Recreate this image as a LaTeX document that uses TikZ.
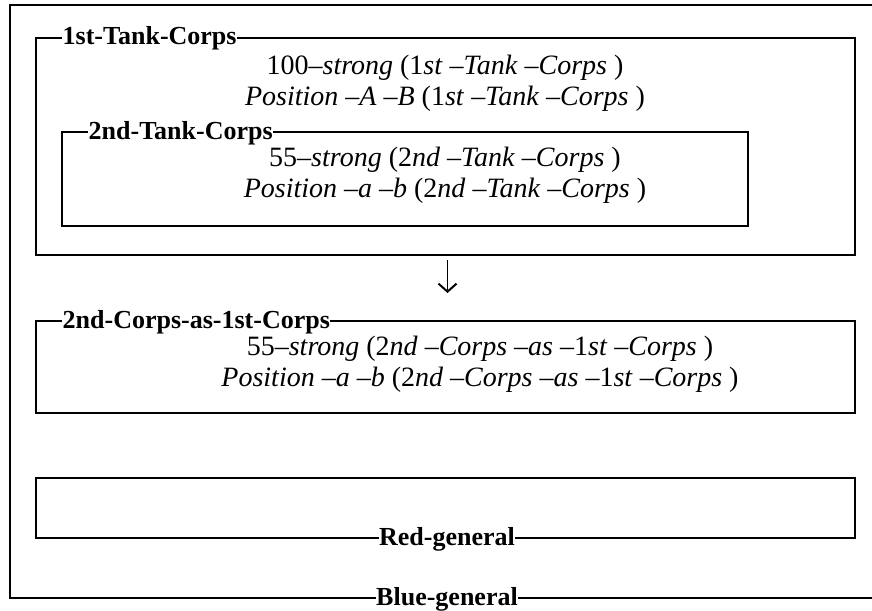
\documentclass[tikz,border=0pt]{standalone}
\usepackage{fontspec}
\setmainfont{Liberation Serif}
\usetikzlibrary{arrows.meta}
\begin{document}
\begin{tikzpicture}[x=1pt,y=-1pt,
  frame/.style={draw, line width=2.3pt, inner sep=0pt, outer sep=0pt, anchor=north west},
  lbl/.style={font=\bfseries\fontsize{26}{28}\selectfont, fill=white, inner xsep=0.5pt, inner ysep=1pt, anchor=base west},
  body/.style={font=\fontsize{28}{31}\selectfont, align=center, inner sep=0pt, anchor=base}]
\useasboundingbox (0,0) rectangle (872,610);
\clip (0,0) rectangle (872,610);
% boxes
\node[frame, minimum width=880pt, minimum height=593pt] (blue) at (10,5) {};
\node[frame, minimum width=819pt, minimum height=217pt] (tank1) at (36,38) {};
\node[frame, minimum width=686pt, minimum height=94pt] (tank2) at (62,132) {};
\node[frame, minimum width=819pt, minimum height=92pt] (corps) at (36,321) {};
\node[frame, minimum width=819pt, minimum height=60pt] (red) at (36,478) {};
% labels on the frames
\node[lbl] (tank1lbl) at (62,45) {1st-Tank-Corps};
\node[lbl] (tank2lbl) at (88,139) {2nd-Tank-Corps};
\node[lbl] (corpslbl) at (62,328) {2nd-Corps-as-1st-Corps};
\node[lbl, anchor=base] (redlbl) at (447,545) {Red-general};
\node[lbl, anchor=base] (bluelbl) at (447,605) {Blue-general};
% contents
\node[body] (tank1txt) at (445,105) {100--\textit{strong} (1\textit{st} --\textit{Tank} --\textit{Corps} )\\
\textit{Position} --\textit{A} --\textit{B} (1\textit{st} --\textit{Tank} --\textit{Corps} )};
\node[body] (tank2txt) at (445,197) {55--\textit{strong} (2\textit{nd} --\textit{Tank} --\textit{Corps} )\\
\textit{Position} --\textit{a} --\textit{b} (2\textit{nd} --\textit{Tank} --\textit{Corps} )};
\node[body] (corpstxt) at (480,386) {55--\textit{strong} (2\textit{nd} --\textit{Corps} --\textit{as} --1\textit{st} --\textit{Corps} )\\
\textit{Position} --\textit{a} --\textit{b} (2\textit{nd} --\textit{Corps} --\textit{as} --1\textit{st} --\textit{Corps} )};
% arrow
\draw[line width=1.8pt, -{Straight Barb[length=8pt,width=18pt,line width=2pt]}]
  ([xshift=2pt,yshift=-5pt]tank1.south) -- ([xshift=2pt,yshift=28pt]corps.north);
\end{tikzpicture}
\end{document}
